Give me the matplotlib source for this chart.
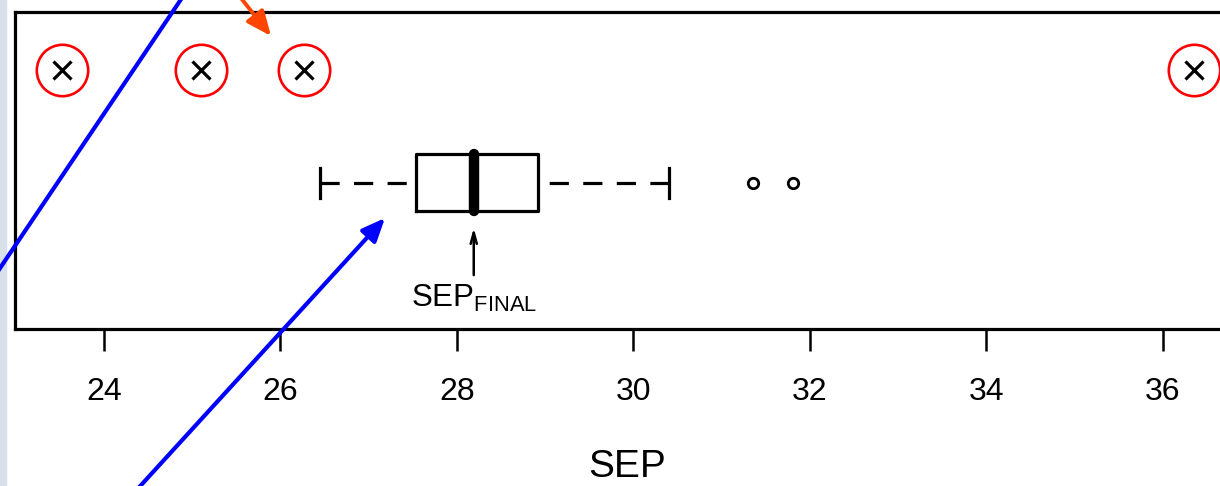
import matplotlib
matplotlib.use("Agg")
import matplotlib.pyplot as plt
from matplotlib.lines import Line2D
from matplotlib.patches import FancyArrowPatch, Rectangle

plt.rcParams['font.family'] = ['Liberation Sans', 'DejaVu Sans']
plt.rcParams['mathtext.fontset'] = 'custom'
plt.rcParams['mathtext.rm'] = 'Liberation Sans'
plt.rcParams['mathtext.sf'] = 'Liberation Sans'

# Five-number summary of SEP over the retained runs, plus the outliers
sep_whisker_low = 26.45
sep_q1 = 27.54
sep_median = 28.19
sep_q3 = 28.92
sep_whisker_high = 30.40
sep_outliers = [31.36, 31.81]

# Runs that were rejected (crossed out and circled)
rejected_sep = [23.52, 25.10, 26.27, 36.35]

xticks = [24, 26, 28, 30, 32, 34, 36]

W, H = 1220, 486
fig = plt.figure(figsize=(W / 100, H / 100), dpi=100, facecolor='white')


def px(x, y):
    """Figure pixel position (origin top-left) to figure fraction."""
    return x / W, 1 - y / H


ax = fig.add_axes([14.5 / W, (H - 329) / H, (1240 - 14.5) / W, (329 - 12) / H])
ax.set_xlim(22.986, 36.873)
ax.set_ylim(0, 1)

box_y = 0.4615
stats = [dict(med=sep_median, q1=sep_q1, q3=sep_q3,
              whislo=sep_whisker_low, whishi=sep_whisker_high,
              fliers=sep_outliers)]
parts = ax.bxp(
    stats, positions=[box_y], widths=0.179, capwidths=0.0946,
    orientation='horizontal', manage_ticks=False,
    boxprops=dict(color='black', lw=2.3),
    whiskerprops=dict(color='black', lw=2.3, linestyle=(0, (6, 4.5))),
    capprops=dict(color='black', lw=2.3),
    medianprops=dict(color='black', lw=7.5, solid_capstyle='round'),
    flierprops=dict(marker='o', markerfacecolor='none', markeredgecolor='black',
                    markersize=7.5, markeredgewidth=2, linestyle='none'),
)
# dashes start at the whisker ends
for wh in parts['whiskers']:
    wh.set_xdata(wh.get_xdata()[::-1])
    wh.set_ydata(wh.get_ydata()[::-1])

cross_y = 0.817
ax.plot(rejected_sep, [cross_y] * len(rejected_sep), linestyle='none',
        marker='x', ms=13, mew=2.3, color='black')
ax.plot(rejected_sep, [cross_y] * len(rejected_sep), linestyle='none',
        marker='o', ms=37, mew=1.9, mfc='none', mec='#FF0000')

# final SEP pointer
ax.annotate('', xy=(sep_median, 0.3186), xytext=(sep_median, 0.170),
            arrowprops=dict(arrowstyle='->,head_length=0.8,head_width=0.22',
                            lw=1.8, color='black', shrinkA=0, shrinkB=0))
ax.text(sep_median, 0.069, r'$\mathrm{SEP}_{\mathrm{FINAL}}$',
        ha='center', va='baseline', fontsize=22.5)

ax.set_xticks(xticks)
ax.set_xticklabels([str(t) for t in xticks])
ax.set_yticks([])
ax.tick_params(axis='x', length=15.8, width=1.8, labelsize=23, pad=19)
for sp in ax.spines.values():
    sp.set_linewidth(2.3)
ax.set_xlabel('SEP', fontsize=28, labelpad=30)

# side strip
fig.add_artist(Rectangle((0, 0), 6 / W, 1, transform=fig.transFigure,
                         color='#D8E0EB', zorder=0))

# overlay pointers
blue = '#0000FF'
(x0, y0), (x1, y1) = px(194, -20), px(-10, 283)
fig.add_artist(Line2D([x0, x1], [y0, y1], transform=fig.transFigure,
                      color=blue, lw=3, zorder=10))
fig.add_artist(FancyArrowPatch(px(122, 506), px(385, 218),
                               transform=fig.transFigure,
                               arrowstyle='-|>,head_length=14,head_width=6',
                               mutation_scale=1, color=blue, lw=3,
                               shrinkA=0, shrinkB=0, zorder=10))
fig.add_artist(FancyArrowPatch(px(229, -17), px(271, 36),
                               transform=fig.transFigure,
                               arrowstyle='-|>,head_length=15,head_width=6.5',
                               mutation_scale=1, color='#FF4500', lw=2.8,
                               shrinkA=0, shrinkB=0, zorder=10))

fig.savefig('out.png', dpi=100, facecolor='white')
